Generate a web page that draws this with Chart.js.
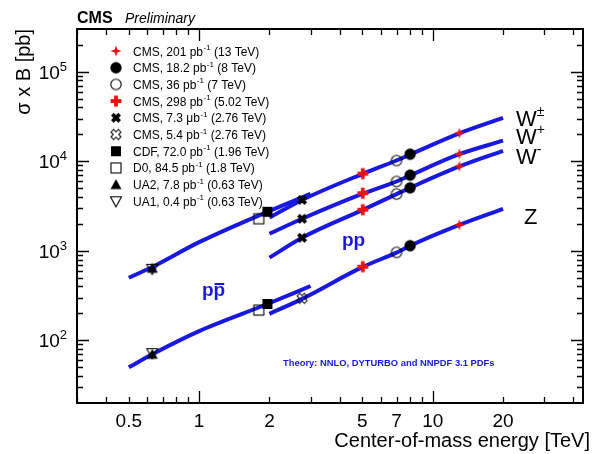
<!DOCTYPE html>
<html>
<head>
<meta charset="utf-8">
<script src="https://cdn.jsdelivr.net/npm/chart.js@4.4.1/dist/chart.umd.min.js"></script>
<style>
  html, body { margin: 0; padding: 0; background: #fff; }
  canvas { display: block; }
</style>
</head>
<body>
<canvas id="xsecChart" width="592" height="454"></canvas>
<script>
// axis ranges
const xMin = 0.3, xMax = 44;
const yMin = 20, yMax = 3e5;
const xTickLabels = [0.5, 1, 2, 5, 7, 10, 20];
const yTickExponents = [2, 3, 4, 5];

// NNLO theory curves, pp collisions
const ppEnergy = [2, 2.76, 5.02, 7, 8, 13, 20];
const ppWpm = [2350, 3700, 7250, 10200, 11900, 20500, 30500];
const ppWplus = [1550, 2280, 4350, 5950, 6950, 12000, 17000];
const ppWminus = [840, 1400, 2870, 4300, 5050, 8750, 13100];
const ppZ = [198, 291, 662, 955, 1140, 1950, 2950];

// NNLO theory curves, p-pbar collisions
const ppbarEnergy = [0.5, 0.63, 1, 1.96, 3];
const ppbarW = [500, 660, 1250, 2730, 4330];
const ppbarZ = [50, 70, 127, 255, 405];

// measurements (W+-, W+, W-, Z where available)
const cms13 = [20600, 12100, 8800, 1950];
const cms8 = [12000, 7000, 5050, 1140];
const cms7 = [10200, 5950, 4300, 960];
const cms502 = [7280, 4400, 2880, 665];
const cms276W = [3700, 2280, 1400];
const cms276Z = [295];
const cdf = [2730, 255];
const d0 = [2280, 218];
const ua2 = [640, 70];
const ua1 = [630, 72];

const measEnergy = [13, 8, 7, 5.02, 2.76, 2.76, 1.96, 1.8, 0.63, 0.63];
const legendText = [
  ['CMS, 201 pb', '-1', ' (13 TeV)'],
  ['CMS, 18.2 pb', '-1', ' (8 TeV)'],
  ['CMS, 36 pb', '-1', ' (7 TeV)'],
  ['CMS, 298 pb', '-1', ' (5.02 TeV)'],
  ['CMS, 7.3 \u03bcb', '-1', ' (2.76 TeV)'],
  ['CMS, 5.4 pb', '-1', ' (2.76 TeV)'],
  ['CDF, 72.0 pb', '-1', ' (1.96 TeV)'],
  ['D0, 84.5 pb', '-1', ' (1.8 TeV)'],
  ['UA2, 7.8 pb', '-1', ' (0.63 TeV)'],
  ['UA1, 0.4 pb', '-1', ' (0.63 TeV)']
];

const BLUE = '#1818e0';
const RED = '#ee1111';
const FONT = '"Liberation Sans", Arial, Helvetica, sans-serif';

// --- marker shapes, drawn once into small canvases ---
function marker(size, paint) {
  const c = document.createElement('canvas');
  c.width = size; c.height = size;
  const g = c.getContext('2d');
  g.translate(size / 2, size / 2);
  paint(g);
  return c;
}

function plusPath(g, L, w) {
  g.beginPath();
  g.moveTo(-w, -L); g.lineTo(w, -L); g.lineTo(w, -w); g.lineTo(L, -w);
  g.lineTo(L, w); g.lineTo(w, w); g.lineTo(w, L); g.lineTo(-w, L);
  g.lineTo(-w, w); g.lineTo(-L, w); g.lineTo(-L, -w); g.lineTo(-w, -w);
  g.closePath();
}

const markers = [
  marker(14, g => { // thin red star
    const r = 5.5, s = 1.4;
    g.beginPath();
    g.moveTo(0, -r); g.lineTo(s, -s); g.lineTo(r, 0); g.lineTo(s, s);
    g.lineTo(0, r); g.lineTo(-s, s); g.lineTo(-r, 0); g.lineTo(-s, -s);
    g.closePath(); g.fillStyle = RED; g.fill();
  }),
  marker(14, g => { g.beginPath(); g.arc(0, 0, 5.7, 0, Math.PI * 2); g.fillStyle = '#000'; g.fill(); }),
  marker(14, g => { g.beginPath(); g.arc(0, 0, 5.2, 0, Math.PI * 2); g.lineWidth = 1.1; g.strokeStyle = '#000'; g.stroke(); }),
  marker(14, g => { plusPath(g, 5.4, 1.9); g.fillStyle = RED; g.fill(); }),
  marker(14, g => { g.rotate(Math.PI / 4); plusPath(g, 5.2, 1.9); g.fillStyle = '#000'; g.fill(); }),
  marker(14, g => { g.rotate(Math.PI / 4); plusPath(g, 5.2, 1.9); g.lineWidth = 1; g.strokeStyle = '#000'; g.stroke(); }),
  marker(14, g => { g.fillStyle = '#000'; g.fillRect(-5, -5, 10, 10); }),
  marker(14, g => { g.lineWidth = 1.1; g.strokeStyle = '#000'; g.strokeRect(-5, -5, 10, 10); }),
  marker(14, g => {
    g.beginPath(); g.moveTo(0, -5.5); g.lineTo(5.5, 4.5); g.lineTo(-5.5, 4.5); g.closePath();
    g.fillStyle = '#000'; g.fill();
  }),
  marker(14, g => {
    g.beginPath(); g.moveTo(0, 5.5); g.lineTo(5.5, -4.5); g.lineTo(-5.5, -4.5); g.closePath();
    g.lineWidth = 1.1; g.strokeStyle = '#000'; g.stroke();
  })
];

function pts(xs, ys) {
  return ys.map((v, i) => ({ x: Array.isArray(xs) ? xs[i] : xs, y: v }));
}

function curve(xs, ys) {
  return {
    data: pts(xs, ys),
    showLine: true,
    borderColor: BLUE,
    borderWidth: 4,
    borderCapStyle: 'butt',
    cubicInterpolationMode: 'monotone',
    pointRadius: 0,
    order: 2
  };
}

const measSets = [cms13, cms8, cms7, cms502, cms276W, cms276Z, cdf, d0, ua2, ua1];
const measDatasets = measSets.map((vals, i) => ({
  data: pts(measEnergy[i], vals),
  showLine: false,
  pointStyle: markers[i],
  pointRadius: 5,
  order: 1
}));

// frame, ticks, labels and legend in the ROOT style
const decor = {
  id: 'decor',
  afterDraw(chart) {
    const ctx = chart.ctx, a = chart.chartArea;
    const xs = chart.scales.x, ys = chart.scales.y;
    ctx.save();

    ctx.strokeStyle = '#000';
    ctx.lineWidth = 2;
    ctx.strokeRect(a.left, a.top, a.right - a.left, a.bottom - a.top);

    ctx.lineWidth = 1.3;
    ctx.beginPath();
    [0.1, 1, 10].forEach(d => {
      for (let m = 1; m <= 9; m++) {
        const v = m * d;
        if (v <= xMin || v >= xMax) continue;
        const px = Math.round(xs.getPixelForValue(v)) + 0.5;
        const len = m === 1 ? 12 : 6;
        ctx.moveTo(px, a.bottom); ctx.lineTo(px, a.bottom - len);
        ctx.moveTo(px, a.top); ctx.lineTo(px, a.top + len);
      }
    });
    [10, 100, 1000, 1e4, 1e5].forEach(d => {
      for (let m = 1; m <= 9; m++) {
        const v = m * d;
        if (v <= yMin || v >= yMax) continue;
        const py = Math.round(ys.getPixelForValue(v)) + 0.5;
        const len = m === 1 ? 12 : 6;
        ctx.moveTo(a.left, py); ctx.lineTo(a.left + len, py);
        ctx.moveTo(a.right, py); ctx.lineTo(a.right - len, py);
      }
    });
    ctx.stroke();

    // tick labels
    ctx.fillStyle = '#000';
    ctx.textBaseline = 'alphabetic';
    ctx.font = '19px ' + FONT;
    ctx.textAlign = 'center';
    xTickLabels.forEach(v => {
      ctx.fillText(String(v), xs.getPixelForValue(v), a.bottom + 24);
    });
    ctx.textAlign = 'left';
    yTickExponents.forEach(e => {
      const py = ys.getPixelForValue(Math.pow(10, e));
      ctx.font = '13px ' + FONT;
      const ws = ctx.measureText(String(e)).width;
      ctx.font = '19px ' + FONT;
      const wb = ctx.measureText('10').width;
      const x0 = 67 - ws - wb;
      ctx.fillText('10', x0, py + 7);
      ctx.font = '13px ' + FONT;
      ctx.fillText(String(e), x0 + wb, py - 1);
    });

    // axis titles
    ctx.font = '20px ' + FONT;
    ctx.textAlign = 'right';
    ctx.fillText('Center-of-mass energy [TeV]', 590, 447);
    ctx.save();
    ctx.translate(30, a.top);
    ctx.rotate(-Math.PI / 2);
    ctx.fillText('\u03c3 x B [pb]', 0, 0);
    ctx.restore();

    // header
    ctx.textAlign = 'left';
    ctx.font = 'bold 16px ' + FONT;
    ctx.fillText('CMS', a.left, 23);
    ctx.font = 'italic 14px ' + FONT;
    ctx.fillText('Preliminary', a.left + 48, 23);

    // legend
    legendText.forEach((t, i) => {
      const y = 51 + i * 16.7;
      const m = markers[i];
      ctx.drawImage(m, 116 - m.width / 2, y - m.height / 2);
      ctx.font = '12px ' + FONT;
      let x = 133;
      ctx.fillText(t[0], x, y + 4.5);
      x += ctx.measureText(t[0]).width + 0.5;
      ctx.font = '8px ' + FONT;
      ctx.fillText(t[1], x, y - 1);
      x += ctx.measureText(t[1]).width;
      ctx.font = '12px ' + FONT;
      ctx.fillText(t[2], x, y + 4.5);
    });

    // curve labels
    const supLabel = (base, sup, x, y) => {
      ctx.font = '22px ' + FONT;
      ctx.fillText(base, x, y);
      const w = ctx.measureText(base).width;
      ctx.font = '14px ' + FONT;
      ctx.fillText(sup, x + w, y - 10);
    };
    supLabel('W', '\u00b1', 516, 126);
    supLabel('W', '+', 516, 144);
    supLabel('W', '-', 516, 164);
    ctx.font = '22px ' + FONT;
    ctx.fillText('Z', 524, 224);

    // collision type labels
    ctx.fillStyle = BLUE;
    ctx.font = 'bold 19px ' + FONT;
    ctx.fillText('pp', 342, 246);
    ctx.fillText('pp', 202, 296);
    const wp = ctx.measureText('p').width;
    ctx.fillRect(202 + wp + 1, 283, wp - 2, 2);

    ctx.font = 'bold 9.4px ' + FONT;
    ctx.fillText('Theory: NNLO, DYTURBO and NNPDF 3.1 PDFs', 283, 366);

    ctx.restore();
  }
};

new Chart(document.getElementById('xsecChart'), {
  type: 'scatter',
  data: {
    datasets: [
      ...measDatasets,
      curve(ppEnergy, ppWpm),
      curve(ppEnergy, ppWplus),
      curve(ppEnergy, ppWminus),
      curve(ppEnergy, ppZ),
      curve(ppbarEnergy, ppbarW),
      curve(ppbarEnergy, ppbarZ)
    ]
  },
  options: {
    responsive: false,
    animation: false,
    devicePixelRatio: 1,
    events: [],
    layout: { padding: { left: 77, right: 9, top: 29, bottom: 51 } },
    scales: {
      x: { type: 'logarithmic', min: xMin, max: xMax, display: false },
      y: { type: 'logarithmic', min: yMin, max: yMax, display: false }
    },
    plugins: {
      legend: { display: false },
      tooltip: { enabled: false }
    }
  },
  plugins: [decor]
});
</script>
</body>
</html>
